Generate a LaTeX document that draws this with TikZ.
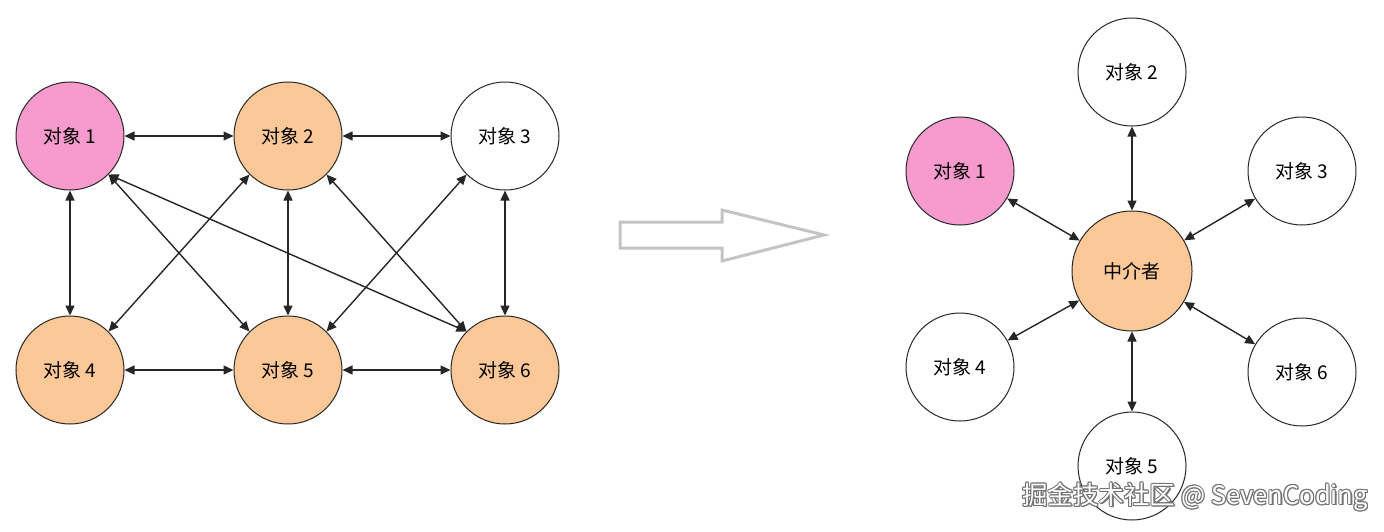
\documentclass[tikz,border=0pt]{standalone}
\usepackage{fontspec}
\newfontfamily\cjk{Noto Sans CJK SC}
\usetikzlibrary{arrows.meta}
\definecolor{pinkfill}{HTML}{F79ACD}
\definecolor{orangefill}{HTML}{FCC897}
\definecolor{biggray}{HTML}{C4C4C4}
\tikzset{
  obj/.style={circle,draw=black!85,line width=1pt,minimum size=108pt,inner sep=0pt,font=\cjk\fontsize{19}{19}\selectfont},
  mid/.style={obj,minimum size=120pt},
  link/.style={{Triangle[length=10pt,width=9pt]}-{Triangle[length=10pt,width=9pt]},line width=1.4pt,black!85},
  wmtext/.style={font=\cjk\fontsize{25.5}{25.5}\selectfont,anchor=east,inner sep=0pt},
}
\begin{document}
\begin{tikzpicture}[x=1pt,y=-1pt]
\useasboundingbox[fill=white] (0,0) rectangle (1384,531);
% left graph
\node[obj,fill=pinkfill]   (a1) at (70,136)  {对象 1};
\node[obj,fill=orangefill] (a2) at (288,136) {对象 2};
\node[obj,fill=white]      (a3) at (505,136) {对象 3};
\node[obj,fill=orangefill] (a4) at (70,370)  {对象 4};
\node[obj,fill=orangefill] (a5) at (288,370) {对象 5};
\node[obj,fill=orangefill] (a6) at (505,370) {对象 6};
\foreach \s/\t in {a1/a2,a2/a3,a4/a5,a5/a6}
  \draw[link] (\s.east) -- (\t.west);
\foreach \s/\t in {a1/a4,a2/a5,a3/a6}
  \draw[link] (\s.south) -- (\t.north);
\foreach \s/\t in {a1/a5,a1/a6,a2/a6}
  \draw[link] (\s.south east) -- (\t.north west);
\foreach \s/\t in {a2/a4,a3/a5}
  \draw[link] (\s.south west) -- (\t.north east);
% big hollow arrow
\draw[biggray,line width=3pt,line join=miter]
  (620,222) coordinate (arrA) -- (722,222) -- (722,210) -- (824,235) coordinate (arrTip)
  -- (722,261) -- (722,248) -- (620,248) -- cycle;
% right graph
\node[mid,fill=orangefill] (m) at (1132,271) {中介者};
\node[obj,fill=pinkfill] (b1) at (960,171)  {对象 1};
\node[obj,fill=white]    (b2) at (1132,72)  {对象 2};
\node[obj,fill=white]    (b3) at (1302,171) {对象 3};
\node[obj,fill=white]    (b4) at (960,367)  {对象 4};
\node[obj,fill=white]    (b5) at (1132,466) {对象 5};
\node[obj,fill=white]    (b6) at (1302,372) {对象 6};
\foreach \t in {b1,b2,b3,b4,b5,b6}
  \draw[link] (m) -- (\t);
% watermark (white text with grey outline)
\foreach \dx/\dy in {-1/0,1/0,0/-1,0/1,-0.7/-0.7,0.7/0.7,-0.7/0.7,0.7/-0.7,1.2/1.2}
  \node[wmtext,text=black!55] at (1368+\dx,497+\dy) {掘金技术社区 @ SevenCoding};
\node[wmtext,text=white] (wm) at (1368,497) {掘金技术社区 @ SevenCoding};
\end{tikzpicture}
\end{document}
